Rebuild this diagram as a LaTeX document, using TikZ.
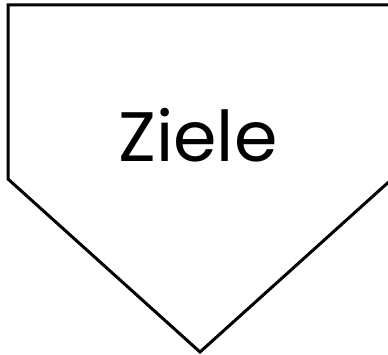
\documentclass[tikz,border=0pt]{standalone}
\usepackage{fontspec}
\setmainfont{Poppins}
\usepackage{xcolor}
\usetikzlibrary{calc,positioning}
\definecolor{cLine}{RGB}{0,0,0}

\begin{document}
\begin{tikzpicture}[x=1pt,y=-1pt]
  \def\lx{8} \def\rx{392} \def\ty{5} \def\sy{179}
  \useasboundingbox (0,0) rectangle (388,355);
  \clip (0,0) rectangle (388,355);
  % the arrow-shaped box
  \draw[cLine,line width=3pt,line join=miter]
    (\rx,\sy) -- (\rx,\ty) -- (\lx,\ty) -- (\lx,\sy) -- (200,352) -- cycle;
  \node[font=\fontsize{70}{74}\selectfont,anchor=base,inner sep=0pt] (ziele) at (198,162) {Ziele};
\end{tikzpicture}
\end{document}
